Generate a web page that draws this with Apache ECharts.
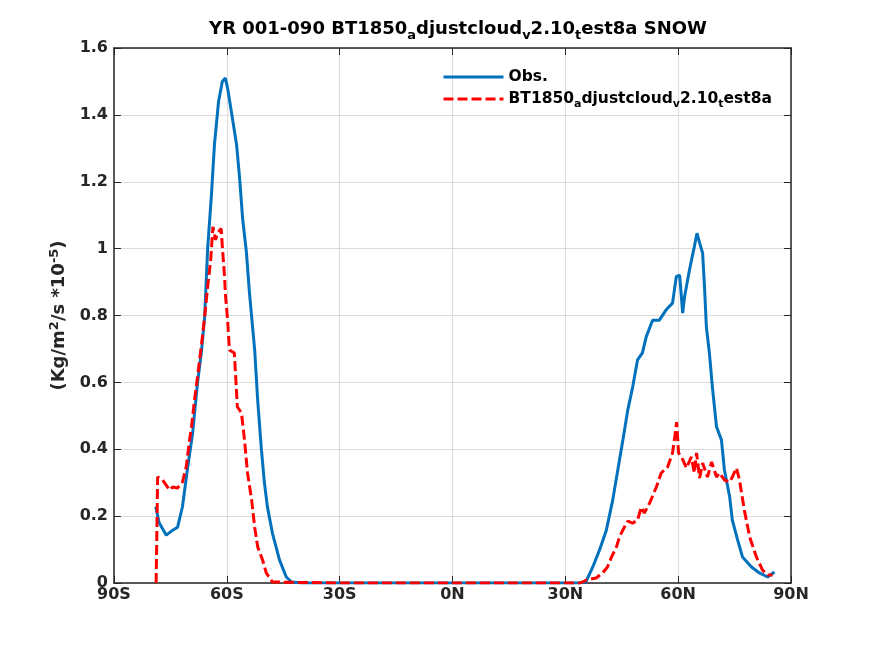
<!DOCTYPE html>
<html>
<head>
<meta charset="utf-8">
<script src="https://cdn.jsdelivr.net/npm/echarts@6/dist/echarts.min.js"></script>
<style>
  html, body { margin: 0; padding: 0; background: #fff; }
  #mybox { width: 875px; height: 656px; }
</style>
</head>
<body>
<div id="mybox"></div>
<script>
// observed snow (latitude, value)
var obsLat = [-78.9, -78.0, -76.1, -74.4, -73.1, -71.8, -70.4, -69.1, -67.8, -66.7, -65.9, -65.1, -64.1, -63.3,
  -62.2, -61.2, -60.4, -59.8, -58.8, -57.4, -56.6, -55.8, -54.8, -54.0, -52.6, -51.8, -50.8, -50.0, -49.2,
  -47.9, -46.0, -44.2, -42.8, -40, -20, 0, 20, 33.5,
  35.5, 37.3, 39.1, 40.9, 42.6, 44.4, 45.3, 46.6, 47.9, 49.2, 50.5, 51.5, 53.2, 55.0, 56.8, 58.5, 59.5, 60.4,
  61.2, 61.7, 63.0, 64.3, 65.0, 65.7, 66.5, 67.0, 67.5, 68.3, 69.1, 70.2, 71.5, 72.3, 73.7, 74.4, 75.8, 77.1,
  79.5, 81.6, 83.8, 85.6];
var obsVal = [0.228, 0.18, 0.143, 0.158, 0.167, 0.228, 0.347, 0.448, 0.598, 0.697, 0.796, 1.0, 1.16, 1.31,
  1.44, 1.50, 1.51, 1.48, 1.41, 1.31, 1.21, 1.09, 0.99, 0.87, 0.697, 0.547, 0.398, 0.299, 0.227,
  0.150, 0.069, 0.018, 0.003, 0, 0, 0, 0, 0,
  0.004, 0.048, 0.099, 0.158, 0.248, 0.368, 0.428, 0.517, 0.586, 0.667, 0.688, 0.736, 0.786, 0.786, 0.817, 0.837, 0.916, 0.921,
  0.807, 0.856, 0.936, 1.006, 1.046, 1.017, 0.987, 0.886, 0.766, 0.688, 0.586, 0.467, 0.428, 0.338, 0.257, 0.188, 0.129, 0.078,
  0.048, 0.030, 0.018, 0.033];

// model snow (latitude, value)
var modLat = [-78.8, -78.4, -77.1, -75.2, -74.4, -73.1, -71.8, -70.8, -69.9, -69.4, -68.6, -67.8, -66.7, -65.9,
  -65.1, -64.3, -63.7, -63.0, -62.5, -61.5, -61.2, -60.6, -60.4, -59.8, -59.3, -58.0, -57.2, -56.1, -55.3,
  -54.5, -53.4, -52.6, -51.8, -50.5, -49.5, -47.9, -30, 0, 20, 34,
  35.6, 38.2, 39.9, 41.2, 42.3, 43.6, 44.4, 45.7, 46.6, 47.9, 49.2, 50.2, 51.0, 52.4, 54.2, 55.5, 57.2, 58.5,
  59.1, 59.6, 60.1, 60.9, 62.2, 63.5, 64.3, 64.9, 65.7, 66.5, 67.8, 68.9, 70.2, 71.0, 72.3, 73.7, 74.4, 75.5,
  76.3, 77.6, 79.0, 80.8, 82.4, 83.8, 85.1];
var modVal = [0, 0.317, 0.308, 0.278, 0.287, 0.284, 0.302, 0.347, 0.428, 0.467, 0.547, 0.616, 0.717, 0.796,
  0.886, 0.966, 1.065, 1.026, 1.046, 1.06, 1.006, 0.916, 0.866, 0.787, 0.697, 0.688, 0.527, 0.508, 0.428,
  0.329, 0.248, 0.167, 0.108, 0.069, 0.030, 0.003, 0, 0, 0, 0,
  0.009, 0.015, 0.030, 0.048, 0.078, 0.108, 0.138, 0.167, 0.185, 0.179, 0.188, 0.227, 0.209, 0.239, 0.287, 0.329, 0.347, 0.389,
  0.437, 0.481, 0.389, 0.377, 0.344, 0.377, 0.329, 0.389, 0.314, 0.359, 0.317, 0.362, 0.317, 0.329, 0.308, 0.302, 0.317, 0.344,
  0.308, 0.218, 0.138, 0.078, 0.039, 0.024, 0.024];

var xTicks = [-90, -60, -30, 0, 30, 60, 90];
var seriesNames = ['Obs.', 'BT1850_adjustcloud_v2.10_test8a'];

function zip(a, b) {
  var out = [];
  for (var i = 0; i < a.length; i++) out.push([a[i], b[i]]);
  return out;
}
function latLabel(v) {
  if (v < 0) return (-v) + 'S';
  if (v > 0) return v + 'N';
  return '0N';
}

var FONT = 'DejaVu Sans';

var mycharts = echarts.init(document.getElementById('mybox'));

var optionObj = {
  animation: false,
  backgroundColor: '#fff',
  title: {
    text: '{n|YR 001-090 BT1850}{s|a}{n|djustcloud}{s|v}{n|2.10}{s|t}{n|est8a SNOW}',
    left: 453,
    textAlign: 'center',
    top: 12,
    textStyle: {
      rich: {
        n: { fontFamily: FONT, fontWeight: 'bold', fontSize: 18, color: '#000' },
        s: { fontFamily: FONT, fontWeight: 'bold', fontSize: 13, color: '#000', padding: [12, 0, 0, 0] }
      }
    }
  },
  legend: {
    data: seriesNames,
    orient: 'vertical',
    left: 437,
    top: 64,
    itemWidth: 60,
    itemHeight: 12,
    itemGap: 6,
    itemStyle: { opacity: 0 },
    lineStyle: { width: 3 },
    formatter: function (name) {
      if (name === 'Obs.') return '{n|Obs.}';
      return '{n|BT1850}{s|a}{n|djustcloud}{s|v}{n|2.10}{s|t}{n|est8a}';
    },
    textStyle: {
      rich: {
        n: { fontFamily: FONT, fontWeight: 'bold', fontSize: 15.5, color: '#000' },
        s: { fontFamily: FONT, fontWeight: 'bold', fontSize: 11, color: '#000', padding: [10, 0, 0, 0] }
      }
    }
  },
  grid: { left: 114, right: 84, top: 48, bottom: 73 },
  xAxis: [{
    type: 'value',
    min: -90, max: 90, interval: 30,
    axisLine: { onZero: false, lineStyle: { color: '#262626', width: 1.5 } },
    axisTick: { inside: true, length: 7, lineStyle: { color: '#262626' } },
    axisLabel: {
      formatter: latLabel,
      fontFamily: FONT, fontWeight: 'bold', fontSize: 16, color: '#262626', margin: 4
    },
    splitLine: { show: true, lineStyle: { color: '#dcdcdc', width: 1 } }
  }, {
    type: 'value', position: 'top',
    min: -90, max: 90, interval: 30,
    axisLine: { show: true, onZero: false, lineStyle: { color: '#262626', width: 1.5 } },
    axisTick: { inside: true, length: 7, lineStyle: { color: '#262626' } },
    axisLabel: { show: false },
    splitLine: { show: false }
  }],
  yAxis: [{
    type: 'value',
    min: 0, max: 1.6, interval: 0.2,
    name: '{n|(Kg/m}{p|2}{n|/s *10}{p|-5}{n|)}',
    nameLocation: 'middle',
    nameGap: 40,
    nameTextStyle: {
      rich: {
        n: { fontFamily: FONT, fontWeight: 'bold', fontSize: 18, color: '#262626' },
        p: { fontFamily: FONT, fontWeight: 'bold', fontSize: 13, color: '#262626', padding: [0, 0, 11, 0] }
      }
    },
    axisLine: { show: true, onZero: false, lineStyle: { color: '#262626', width: 1.5 } },
    axisTick: { show: true, inside: true, length: 7, lineStyle: { color: '#262626' } },
    axisLabel: { fontFamily: FONT, fontWeight: 'bold', fontSize: 16, color: '#262626', margin: 6 },
    splitLine: { show: true, lineStyle: { color: '#dcdcdc', width: 1 } }
  }, {
    type: 'value', position: 'right',
    min: 0, max: 1.6, interval: 0.2,
    axisLine: { show: true, onZero: false, lineStyle: { color: '#262626', width: 1.5 } },
    axisTick: { show: true, inside: true, length: 7, lineStyle: { color: '#262626' } },
    axisLabel: { show: false },
    splitLine: { show: false }
  }],
  series: [{
    name: seriesNames[0],
    type: 'line',
    symbol: 'none',
    data: zip(obsLat, obsVal),
    lineStyle: { color: '#0072BD', width: 3 },
    itemStyle: { color: '#0072BD' },
    z: 3
  }, {
    name: seriesNames[1],
    type: 'line',
    symbol: 'none',
    data: zip(modLat, modVal),
    lineStyle: { color: '#FF0000', width: 3, type: [10, 4] },
    itemStyle: { color: '#FF0000' },
    z: 4
  }]
};

mycharts.setOption(optionObj);
</script>
</body>
</html>
